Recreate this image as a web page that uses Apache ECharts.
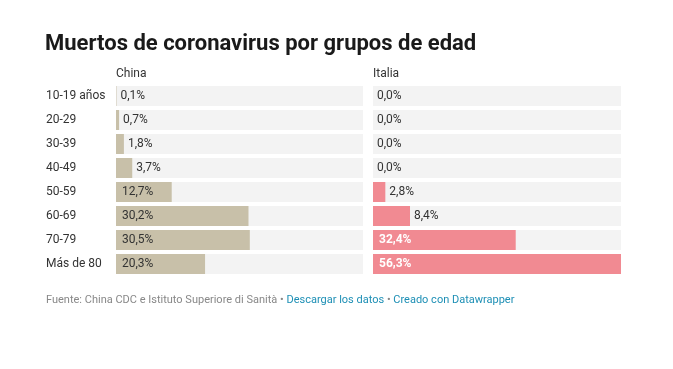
<!DOCTYPE html>
<html>
<head>
<meta charset="utf-8">
<script src="https://cdn.jsdelivr.net/npm/echarts@6/dist/echarts.min.js"></script>
<style>
html,body{margin:0;padding:0;background:#fff;}
#c{width:673px;height:369px;}
</style>
</head>
<body>
<div id="c"></div>
<script>
const categories = ['10-19 años','20-29','30-39','40-49','50-59','60-69','70-79','Más de 80'];
const chinaValues = [0.1, 0.7, 1.8, 3.7, 12.7, 30.2, 30.5, 20.3];
const italyValues = [0.0, 0.0, 0.0, 0.0, 2.8, 8.4, 32.4, 56.3];
const panelTitles = ['China', 'Italia'];

const FONT = 'Roboto, "Noto Sans", sans-serif';
const maxVal = Math.max(...chinaValues, ...italyValues);
const fmt = v => v.toFixed(1).replace('.', ',') + '%';

function makeData(values, insideColor, insideWeight) {
  return values.map(v => {
    const inside = v >= 10;
    return {
      value: v,
      label: {
        show: true,
        position: inside ? 'insideLeft' : 'right',
        distance: inside ? 6 : 4,
        color: inside ? insideColor : '#333',
        fontWeight: inside ? insideWeight : 'normal',
        fontSize: 12,
        fontFamily: FONT,
        formatter: () => fmt(v)
      }
    };
  });
}

const chart = echarts.init(document.getElementById('c'), null, {renderer: 'canvas'});
const grids = [
  {left: 116, top: 84, width: 247, height: 192},
  {left: 373, top: 84, width: 248, height: 192}
];
chart.setOption({
  animation: false,
  backgroundColor: '#fff',
  textStyle: {fontFamily: FONT},
  grid: grids,
  xAxis: [0, 1].map(i => ({
    type: 'value', gridIndex: i, min: 0, max: maxVal,
    show: false
  })),
  yAxis: [0, 1].map(i => ({
    type: 'category', gridIndex: i, data: categories, inverse: true,
    axisLine: {show: false}, axisTick: {show: false},
    axisLabel: {
      show: i === 0, align: 'left', margin: 70,
      color: '#333', fontSize: 12, fontFamily: FONT
    }
  })),
  series: [
    {
      type: 'bar', xAxisIndex: 0, yAxisIndex: 0, barWidth: 20,
      data: makeData(chinaValues, '#333', 'normal'),
      itemStyle: {color: '#c8c0a9'},
      showBackground: true,
      backgroundStyle: {color: '#f3f3f3'}
    },
    {
      type: 'bar', xAxisIndex: 1, yAxisIndex: 1, barWidth: 20,
      data: makeData(italyValues, '#fff', 'bold'),
      itemStyle: {color: '#f18a92'},
      showBackground: true,
      backgroundStyle: {color: '#f3f3f3'}
    }
  ],
  graphic: [
    {type: 'text', left: 45, top: 33, style: {text: 'Muertos de coronavirus por grupos de edad', font: 'bold 22px ' + FONT, fill: '#1a1a1a'}},
    {type: 'text', left: 116, top: 68, style: {text: panelTitles[0], font: '12px ' + FONT, fill: '#333'}},
    {type: 'text', left: 373, top: 68, style: {text: panelTitles[1], font: '12px ' + FONT, fill: '#333'}},
    {type: 'text', left: 46, top: 295, style: {
      text: '{g|Fuente: China CDC e Istituto Superiore di Sanità • }{b|Descargar los datos}{g| • }{b|Creado con Datawrapper}',
      font: '11px ' + FONT,
      rich: {
        g: {fill: '#888', font: '11px ' + FONT},
        b: {fill: '#1d8fb5', font: '11px ' + FONT}
      }
    }}
  ]
});
</script>
</body>
</html>
